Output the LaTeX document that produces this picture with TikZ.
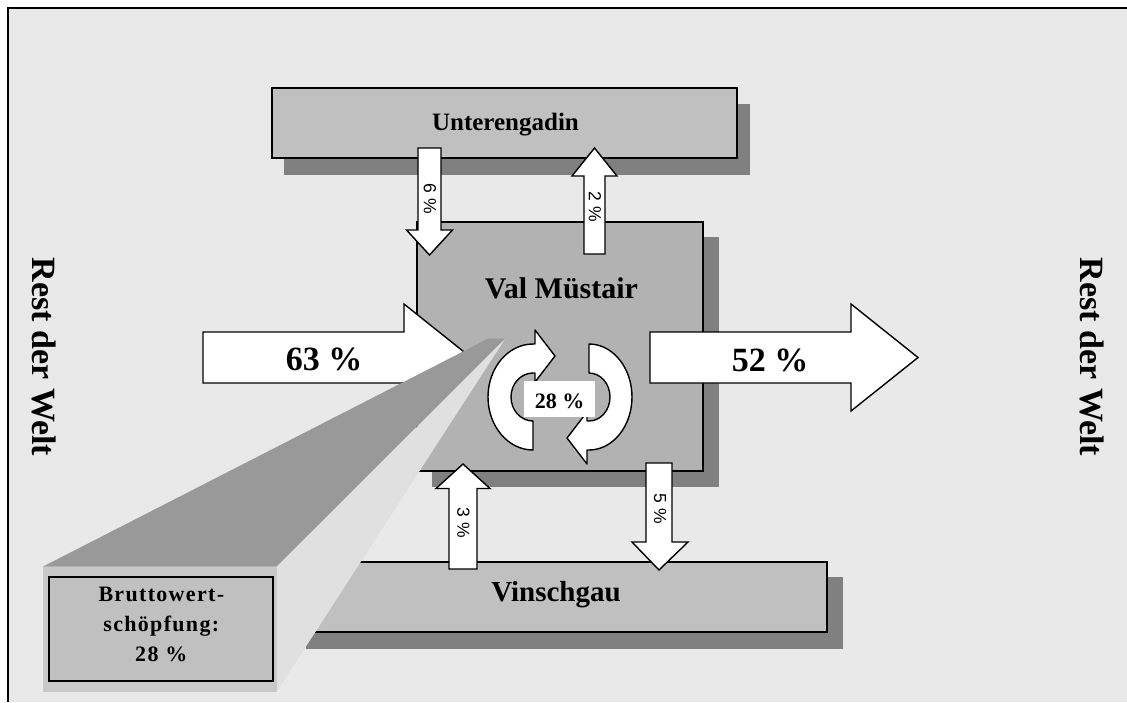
\documentclass[tikz,border=0pt]{standalone}
\usepackage{fontspec}
\setmainfont{Liberation Serif}
\newfontfamily\pctfont{Liberation Sans}
\definecolor{bgc}{HTML}{E9E9E9}
\definecolor{boxa}{HTML}{C0C0C0}
\definecolor{boxb}{HTML}{B2B2B2}
\definecolor{shadowc}{HTML}{808080}
\definecolor{wedgedark}{HTML}{999999}
\definecolor{wedgelight}{HTML}{E0E0E0}
\definecolor{calloutc}{HTML}{C8C8C8}
\begin{document}
\begin{tikzpicture}[x=1pt,y=-1pt,
  bx/.style={draw=black,line width=1.8pt,inner sep=0pt},
  shadowfill/.style={fill=shadowc},
  blockarrow/.style={draw=black,fill=white,line width=1.4pt,line join=miter},
  carrow/.style={draw=black,fill=white,line width=1.4pt,line join=round},
  title/.style={font=\bfseries\fontsize{25}{30}\selectfont,inner sep=0pt},
  bigpct/.style={font=\bfseries\fontsize{34}{38}\selectfont,inner sep=0pt},
  world/.style={font=\bfseries\fontsize{34}{38}\selectfont,rotate=-90,inner sep=0pt},
  pct/.style={font=\pctfont\fontsize{17.5}{20}\selectfont,rotate=-90,inner sep=0pt}]
\useasboundingbox (0,0) rectangle (1127,702);
% background and frame
\fill[bgc] (7.5,7.5) rectangle (1127,702);
\draw[line width=2pt] (7.5,702) -- (7.5,7.5) -- (1127,7.5);

% Unterengadin
\fill[shadowfill] (283.7,103.7) rectangle (749.7,174.7);
\node[bx,fill=boxa,minimum width=465pt,minimum height=70.6pt] (unter) at (504.2,123) {};
\node[title,anchor=base] (unterT) at (505.5,130) {Unterengadin};

% Val Muestair
\fill[shadowfill] (432,237) rectangle (719,486.7);
\node[bx,fill=boxb,minimum width=286pt,minimum height=249pt] (val) at (560,346.2) {};
\node[title,font=\bfseries\fontsize{30}{32}\selectfont,anchor=base] (valT) at (561.5,298.3) {Val Müstair};

% Vinschgau
\fill[shadowfill] (306,577) rectangle (842.7,648.7);
\node[bx,fill=boxa,minimum width=536pt,minimum height=70.3pt] (vin) at (559,596.85) {};
\node[title,font=\bfseries\fontsize{29}{30}\selectfont,anchor=base] (vinT) at (556,601.7) {Vinschgau};

% small arrows
\draw[blockarrow] (418,148) -- (441,148) -- (441,230) -- (452.5,230) -- (429.5,255) -- (406.5,230) -- (418,230) -- cycle;
\node[pct] (p6) at (430,199) {6 \%};
\draw[blockarrow] (584,254) -- (584,176) -- (572,176) -- (594.5,148) -- (617,176) -- (605,176) -- (605,254) -- cycle;
\node[pct] (p2) at (595,207) {2 \%};
\draw[blockarrow] (449,569) -- (449,488.5) -- (436,488.5) -- (463,464) -- (490,488.5) -- (477,488.5) -- (477,569) -- cycle;
\node[pct] (p3) at (463.5,522.5) {3 \%};
\draw[blockarrow] (646,463) -- (672,463) -- (672,542) -- (688,542) -- (659,570) -- (632,542) -- (646,542) -- cycle;
\node[pct] (p5) at (660,509) {5 \%};

% big arrows
\draw[blockarrow] (203,332) -- (404,332) -- (404,304) -- (471,357.5) -- (404,411) -- (404,383) -- (203,383) -- cycle;
\node[bigpct,anchor=base] (p63) at (324,370) {63 \%};
\draw[blockarrow] (650,332) -- (851,332) -- (851,304) -- (918,357.5) -- (851,411) -- (851,383) -- (650,383) -- cycle;
\node[bigpct,anchor=base] (p52) at (770,371) {52 \%};

% callout wedge
\fill[wedgedark] (42.7,566.7) -- (276.7,566.7) -- (505,338.5) -- (488.5,338.5) -- cycle;
\fill[wedgelight] (276.7,566.7) -- (276.7,691.7) -- (505,339) -- cycle;
\fill[calloutc] (42.7,566.7) rectangle (276.7,691.7);
\node[draw=black,line width=1.8pt,fill=boxa,minimum width=224pt,minimum height=104.3pt,inner sep=0pt] (bws) at (161.3,628.85) {};
\node[font=\bfseries\fontsize{22}{30}\selectfont\addfontfeatures{LetterSpace=6},align=center,inner sep=0pt] (bwsT) at (161.3,624.2) {Bruttowert-\\schöpfung:\\28 \%};

% circular arrows
\draw[carrow] (533,450) arc[start angle=90,end angle=270,x radius=45,y radius=53] -- (535,344) -- (535,330) -- (555,356) -- (535,382) -- (535,373) -- (533,373) arc[start angle=270,end angle=90,x radius=22,y radius=24] -- cycle;
\draw[carrow] (589,344) arc[start angle=-90,end angle=90,x radius=43,y radius=53] -- (587,450) -- (587,464) -- (567,438) -- (587,412) -- (587,421) -- (589,421) arc[start angle=90,end angle=-90,x radius=21,y radius=24] -- cycle;
\node[fill=white,minimum width=71pt,minimum height=35.7pt,inner sep=0pt] (w28) at (559.5,398.9) {};
\node[font=\bfseries\fontsize{22}{24}\selectfont,anchor=base,inner sep=0pt] (w28T) at (559.5,408.3) {28 \%};

% Rest der Welt
\node[world] (rwL) at (44,357) {Rest der Welt};
\node[world] (rwR) at (1092,357) {Rest der Welt};
\end{tikzpicture}
\end{document}
